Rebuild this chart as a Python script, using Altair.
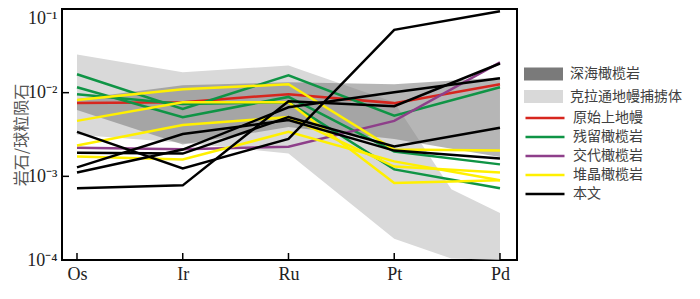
import json
import altair as alt
import pandas as pd

# ---------------- data ----------------
categories = ["Os", "Ir", "Ru", "Pt", "Pd"]
decades = [1e-4, 1e-3, 1e-2, 1e-1]
decade_labels = ["10⁻⁴", "10⁻³", "10⁻²", "10⁻¹"]

# 克拉通地幔捕掳体 envelope (x = element index, may fall between elements)
craton_x = [0, 1, 2, 3, 3.54, 4]
craton_hi = [0.0286, 0.0175, 0.0211, 0.0077, 0.00070, 0.000365]
craton_lo = [0.00314, 0.00252, 0.00187, 0.00018, 0.000104, 0.000101]

# 深海橄榄岩 envelope
abyssal_x = [0, 1, 2, 3, 4]
abyssal_hi = [0.0084, 0.0123, 0.0133, 0.0126, 0.0152]
abyssal_lo = [0.0062, 0.0024, 0.0039, 0.0028, 0.0017]

pum = [[0.0075, 0.0077, 0.0096, 0.0075, 0.0126]]
residual = [
    [0.0166, 0.0064, 0.0161, 0.0053, 0.0116],
    [0.0116, 0.0051, 0.0089, 0.00198, 0.00139],
    [0.0096, 0.0073, 0.0077, 0.00121, 0.00072],
]
metasomatic = [[0.0022, 0.0021, 0.00226, 0.0046, 0.023]]
cumulate = [
    [0.00815, 0.0110, 0.0126, 0.00209, 0.00203],
    [0.0046, 0.0077, 0.0077, 0.00083, 0.00090],
    [0.00233, 0.0041, 0.0051, 0.00131, 0.00111],
    [0.00173, 0.00159, 0.0034, 0.00151, 0.00090],
]
this_study = [
    [0.00072, 0.00078, 0.0079, 0.0069, 0.0223],
    [0.0034, 0.00124, 0.0028, 0.0564, 0.094],
    [0.00111, 0.00209, 0.0067, 0.0101, 0.0149],
    [0.00128, 0.0032, 0.0047, 0.00203, 0.00163],
    [0.00192, 0.00187, 0.0051, 0.00227, 0.0038],
]

fill_names = ["深海橄榄岩", "克拉通地幔捕掳体"]
fill_colors = ["#7a7a7a", "#d9d9d9"]
line_names = ["原始上地幔", "残留橄榄岩", "交代橄榄岩", "堆晶橄榄岩", "本文"]
line_colors = ["#d7261e", "#0f9445", "#8e3f8a", "#fff000", "#000000"]
line_groups = [pum, residual, metasomatic, cumulate, this_study]

# ---------------- tables ----------------
area_rows = []
for x, lo, hi in zip(craton_x, craton_lo, craton_hi):
    area_rows.append({"group": fill_names[1], "idx": x, "lo": lo, "hi": hi})
for x, lo, hi in zip(abyssal_x, abyssal_lo, abyssal_hi):
    area_rows.append({"group": fill_names[0], "idx": x, "lo": lo, "hi": hi})
area_df = pd.DataFrame(area_rows)

line_rows = []
for name, series_list in zip(line_names, line_groups):
    for s, vals in enumerate(series_list):
        for i, v in enumerate(vals):
            line_rows.append({"group": name, "series": f"{name}-{s}", "idx": i, "value": v})
line_df = pd.DataFrame(line_rows)

tick_df = pd.DataFrame({"dec": decades})
xtick_df = pd.DataFrame({"idx": list(range(len(categories)))})

# ---------------- scales / axes ----------------
W, H = 455, 251
serif = "Liberation Serif"
cjk = "Noto Sans CJK SC"

x_scale = alt.Scale(domain=[-0.1418, 4.161], nice=False, zero=False)
y_scale = alt.Scale(type="log", domain=[1e-4, 1e-1], nice=False)

x_axis = alt.Axis(
    values=list(range(len(categories))),
    labelExpr=json.dumps(categories, ensure_ascii=False) + "[round(datum.value)]",
    title=None, labelFont=serif, labelFontSize=18, labelColor="#222",
    labelPadding=5, ticks=False, domain=False, grid=False,
)
y_axis = alt.Axis(
    values=decades,
    labelExpr=json.dumps(decade_labels, ensure_ascii=False) + "[round(log(datum.value)/LN10)+4]",
    labelBaseline={"condition": {"test": "datum.value > 0.05", "value": "top"}, "value": "middle"},
    title="岩石/球粒陨石", titleFont=cjk, titleFontSize=16, titleFontWeight="normal",
    titleColor="#555", titleAngle=-90, titleX=-41, titleY=H / 2,
    titleAlign="center", titleBaseline="middle",
    labelFont=serif, labelFontSize=18, labelColor="#222", labelPadding=5,
    ticks=False, domain=False, grid=False,
)

fill_scale = alt.Scale(domain=fill_names, range=fill_colors)
fill_legend = alt.Legend(
    title=None, orient="none", legendX=462, legendY=58, padding=0,
    symbolType="M-1,-0.33H1V0.33H-1Z", symbolSize=1521, symbolOpacity=1,
    symbolStrokeWidth=0, clipHeight=14, rowPadding=8.5, labelOffset=7,
    labelFont=cjk, labelFontSize=14, labelColor="#404040",
)
stroke_scale = alt.Scale(domain=line_names, range=line_colors)
stroke_legend = alt.Legend(
    title=None, orient="none", legendX=462, legendY=102, padding=0,
    symbolType="stroke", symbolSize=1521, symbolStrokeWidth=2.5, symbolOpacity=1,
    clipHeight=14, rowPadding=5, labelOffset=7,
    labelFont=cjk, labelFontSize=14, labelColor="#404040",
)

X = alt.X("idx:Q", scale=x_scale, axis=x_axis)

craton = alt.Chart(area_df).transform_filter(
    alt.datum.group == fill_names[1]
).mark_area(opacity=1).encode(
    x=X,
    y=alt.Y("lo:Q", scale=y_scale, axis=y_axis),
    y2="hi:Q",
    fill=alt.Fill("group:N", scale=fill_scale, legend=fill_legend),
)
abyssal = alt.Chart(area_df).transform_filter(
    alt.datum.group == fill_names[0]
).mark_area(opacity=0.55).encode(
    x=X,
    y=alt.Y("lo:Q", scale=y_scale, axis=y_axis),
    y2="hi:Q",
    fill=alt.Fill("group:N", scale=fill_scale, legend=fill_legend),
)

line_layers = []
for name in line_names:
    line_layers.append(
        alt.Chart(line_df).transform_filter(alt.datum.group == name)
        .mark_line(strokeWidth=2.5, strokeJoin="miter")
        .encode(
            x=X,
            y=alt.Y("value:Q", scale=y_scale, axis=y_axis),
            stroke=alt.Stroke("group:N", scale=stroke_scale, legend=stroke_legend),
            detail="series:N",
        )
    )

ytick = alt.Chart(tick_df).mark_rule(color="black", strokeWidth=1.5).encode(
    y=alt.Y("dec:Q", scale=y_scale, axis=y_axis),
    x=alt.value(0), x2=alt.value(7),
)
xtick = alt.Chart(xtick_df).mark_rule(color="black", strokeWidth=1.5).encode(
    x=X,
    y=alt.value(H), y2=alt.value(H - 7),
)

chart = alt.layer(craton, abyssal, *line_layers, ytick, xtick).properties(
    width=W, height=H,
    autosize=alt.AutoSizeParams(type="none"),
    padding={"left": 54, "top": 1, "right": 175, "bottom": 31},
).configure_view(
    stroke="black", strokeWidth=2
)

chart.save("out.html", embed_options={"renderer": "svg", "actions": False})
